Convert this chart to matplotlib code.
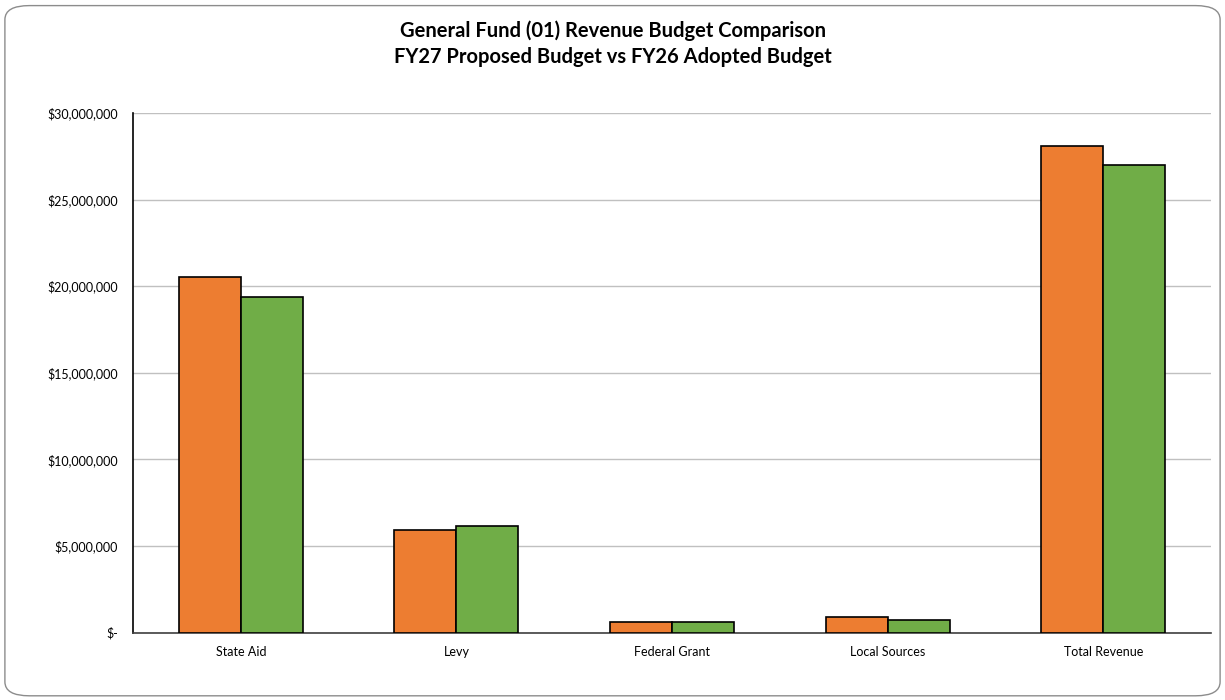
import matplotlib
matplotlib.use("Agg")
import matplotlib.pyplot as plt
from matplotlib.patches import FancyBboxPatch
from matplotlib.ticker import FuncFormatter
import numpy as np

categories = ["State Aid", "Levy", "Federal Grant", "Local Sources", "Total Revenue"]
fy27_proposed = [20_540_000, 5_940_000, 620_000, 880_000, 28_080_000]
fy26_adopted = [19_350_000, 6_130_000, 620_000, 720_000, 26_980_000]
title_lines = ["General Fund (01) Revenue Budget Comparison",
               "FY27 Proposed Budget vs FY26 Adopted Budget"]

plt.rcParams['font.family'] = ['Lato', 'DejaVu Sans']

fig = plt.figure(figsize=(12.25, 7), dpi=100)
fig.patch.set_facecolor("white")

# rounded chart-area border, kept behind the axes
border = FancyBboxPatch((0.004, 0.006), 0.992, 0.986,
                        boxstyle="round,pad=0,rounding_size=0.02",
                        transform=fig.transFigure, facecolor="white",
                        edgecolor="#8c8c8c", linewidth=1.0, zorder=-5)
fig.patches.append(border)

ax = fig.add_axes([133 / 1225, 1 - 632.5 / 700, (1211 - 133) / 1225, (632.5 - 113) / 700])
ax.set_zorder(2)
ax.set_facecolor("none")

x = np.arange(len(categories))
w = 0.288
ax.bar(x - w / 2, fy27_proposed, width=w, color="#ED7D31", edgecolor="black",
       linewidth=1.2, zorder=3, label="FY27 Proposed Budget")
ax.bar(x + w / 2, fy26_adopted, width=w, color="#70AD47", edgecolor="black",
       linewidth=1.2, zorder=3, label="FY26 Adopted Budget")

ax.set_xlim(-0.5, len(categories) - 0.5)
ax.set_ylim(0, 30_000_000)
ax.set_yticks(np.arange(0, 30_000_001, 5_000_000))


def money(v, pos):
    if v == 0:
        return "$-"
    return f"${v:,.0f}"


ax.yaxis.set_major_formatter(FuncFormatter(money))
ax.set_xticks(x)
ax.set_xticklabels(categories)
ax.tick_params(axis="both", length=0, labelsize=9, colors="#000000")
ax.tick_params(axis="y", pad=11)
ax.tick_params(axis="x", pad=10)

ax.grid(axis="y", color="#c0c0c0", linewidth=1.0, zorder=0)
ax.set_axisbelow(True)
for s in ["top", "right"]:
    ax.spines[s].set_visible(False)
ax.spines["left"].set_color("black")
ax.spines["left"].set_linewidth(1.2)
ax.spines["bottom"].set_color("#404040")
ax.spines["bottom"].set_linewidth(1.2)

fig.text(0.5, 1 - 31 / 700, title_lines[0], ha="center", va="center",
         fontsize=14.5, fontweight="bold")
fig.text(0.5, 1 - 57 / 700, title_lines[1], ha="center", va="center",
         fontsize=14.5, fontweight="bold")

fig.savefig("out.png", dpi=100, facecolor="white")
